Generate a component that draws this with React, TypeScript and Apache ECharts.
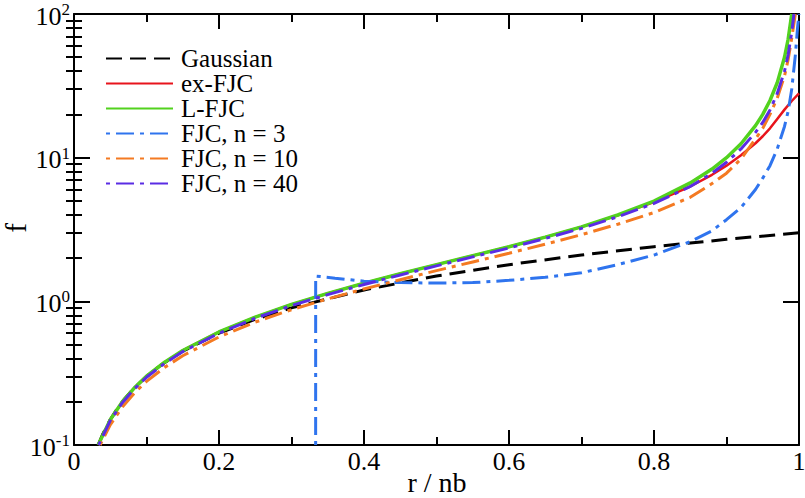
import React, { useEffect, useRef } from "react";
import * as echarts from "echarts";

// ---- data ----
const gaussianR = [0.0333, 0.04, 0.05, 0.06, 0.07, 0.08, 0.1, 0.12, 0.15, 0.2, 0.25, 0.3, 0.4, 0.5, 0.6, 0.7, 0.8, 0.9, 1.0];
const gaussianF = [0.1, 0.12, 0.15, 0.18, 0.21, 0.24, 0.3, 0.36, 0.45, 0.6, 0.75, 0.9, 1.2, 1.5, 1.8, 2.1, 2.4, 2.7, 3.0];

const lfjcR = [0.0333, 0.05, 0.0667, 0.0833, 0.1, 0.125, 0.15, 0.2, 0.25, 0.3, 0.35, 0.4, 0.45, 0.5, 0.55, 0.6, 0.65, 0.7, 0.75, 0.8, 0.85, 0.88, 0.9, 0.92, 0.94, 0.95, 0.96, 0.97, 0.98, 0.985, 0.99];
const lfjcF = [0.1, 0.15, 0.2, 0.25, 0.301, 0.377, 0.455, 0.612, 0.777, 0.953, 1.135, 1.335, 1.555, 1.8, 2.08, 2.4, 2.8, 3.3, 3.99, 4.99, 6.67, 8.33, 10, 12.5, 16.7, 20, 25, 33.3, 50, 66.7, 100];

const exfjcR = [0.0333, 0.05, 0.0667, 0.0833, 0.1, 0.125, 0.15, 0.2, 0.25, 0.3, 0.35, 0.4, 0.45, 0.5, 0.55, 0.6, 0.65, 0.7, 0.75, 0.8, 0.85, 0.88, 0.9, 0.92, 0.94, 0.95, 0.96, 0.97, 0.98, 0.99, 1.0];
const exfjcF = [0.1, 0.15, 0.2, 0.25, 0.301, 0.377, 0.455, 0.612, 0.777, 0.953, 1.135, 1.335, 1.555, 1.8, 2.08, 2.4, 2.8, 3.3, 3.97, 4.9, 6.3, 7.6, 8.8, 10.4, 12.6, 14.1, 16.0, 18.6, 21.6, 24.8, 28];

const fjc3R = [0.3333, 0.33335, 0.36, 0.4, 0.45, 0.5, 0.55, 0.6, 0.65, 0.7, 0.75, 0.8, 0.85, 0.88, 0.9, 0.92, 0.94, 0.95, 0.96, 0.97, 0.98, 0.985, 0.99, 0.995, 0.998, 1.0];
const fjc3F = [0.1, 1.5, 1.45, 1.38, 1.35, 1.34, 1.35, 1.4, 1.47, 1.58, 1.8, 2.1, 2.6, 3.1, 3.7, 4.5, 6.0, 7.2, 8.8, 11.5, 16.5, 21, 30, 52, 80, 100];

const fjc10R = [0.036, 0.05, 0.0667, 0.0833, 0.1, 0.125, 0.15, 0.2, 0.25, 0.3, 0.35, 0.4, 0.45, 0.5, 0.55, 0.6, 0.65, 0.7, 0.75, 0.8, 0.85, 0.88, 0.9, 0.92, 0.94, 0.95, 0.96, 0.97, 0.98, 0.985, 0.99, 0.995];
const fjc10F = [0.1, 0.138, 0.184, 0.23, 0.277, 0.347, 0.418, 0.565, 0.717, 0.875, 1.04, 1.22, 1.415, 1.635, 1.88, 2.16, 2.5, 2.91, 3.44, 4.15, 5.3, 6.6, 7.8, 9.8, 13.5, 16, 20, 26, 37, 48, 68, 100];

const fjc40R = [0.034, 0.05, 0.0667, 0.0833, 0.1, 0.125, 0.15, 0.2, 0.25, 0.3, 0.35, 0.4, 0.45, 0.5, 0.55, 0.6, 0.65, 0.7, 0.75, 0.8, 0.85, 0.88, 0.9, 0.92, 0.94, 0.95, 0.96, 0.97, 0.98, 0.985, 0.99, 0.993];
const fjc40F = [0.1, 0.148, 0.197, 0.246, 0.296, 0.37, 0.447, 0.6, 0.763, 0.935, 1.113, 1.31, 1.525, 1.765, 2.04, 2.35, 2.74, 3.22, 3.88, 4.8, 6.3, 7.8, 9.3, 11.5, 15, 17.6, 21.5, 28, 40, 52, 75, 100];

const seriesNames = ["Gaussian", "ex-FJC", "L-FJC", "FJC, n = 3", "FJC, n = 10", "FJC, n = 40"];
const xTicks = [0, 0.2, 0.4, 0.6, 0.8, 1];
const yMinorTicks = [0.2, 0.3, 0.4, 0.5, 0.6, 0.7, 0.8, 0.9, 2, 3, 4, 5, 6, 7, 8, 9, 20, 30, 40, 50, 60, 70, 80, 90];

const FONT = "Liberation Serif";

const pairs = (r: number[], f: number[]) => r.map((v, i) => [v, f[i]]);

export default function App() {
  const ref = useRef<HTMLDivElement>(null);
  useEffect(() => {
    document.body.style.margin = "0";
    const chart = echarts.init(ref.current!, undefined, { renderer: "svg" });
    const mkLine = (name: string, data: number[][], color: string, width: number, type: any) => ({
      name,
      type: "line",
      data,
      xAxisIndex: 0,
      yAxisIndex: 0,
      symbol: "none",
      showSymbol: false,
      smooth: false,
      lineStyle: { color, width, type },
      itemStyle: { color },
      emphasis: { disabled: true },
    });
    const axisLineStyle = { color: "#000", width: 2 };
    const dashDot = [4, 6, 18, 6];
    const option: any = {
      animation: false,
      textStyle: { fontFamily: FONT },
      grid: { left: 74, right: 6, top: 14, bottom: 53, containLabel: false, outerBoundsMode: "none" },
      legend: {
        orient: "vertical",
        left: 105,
        top: 46,
        padding: 0,
        itemWidth: 67,
        itemHeight: 14,
        itemGap: 0,
        data: seriesNames,
        itemStyle: { opacity: 0 },
        formatter: (name: string) => `{a|${name}}`,
        textStyle: {
          fontFamily: FONT,
          fontSize: 25,
          lineHeight: 21.5,
          color: "#000",
          padding: [0, 0, 0, 3],
          rich: { a: { fontFamily: FONT, fontSize: 25, lineHeight: 21.5, color: "#000" } },
        },
        selectedMode: false,
      },
      xAxis: [
        {
          type: "value",
          min: xTicks[0],
          max: xTicks[xTicks.length - 1],
          interval: 0.2,
          position: "bottom",
          axisLine: { show: true, onZero: false, lineStyle: axisLineStyle },
          axisTick: { show: true, inside: true, length: 15, lineStyle: { color: "#000", width: 2 } },
          minorTick: { show: true, splitNumber: 2, length: 8, lineStyle: { color: "#000", width: 2 } },
          splitLine: { show: false },
          axisLabel: {
            margin: 3,
            fontSize: 26,
            color: "#000",
            fontFamily: FONT,
            formatter: (v: number) => (Math.abs(v) < 1e-9 ? "0" : String(Math.round(v * 10) / 10)),
          },
        },
        {
          type: "value",
          min: xTicks[0],
          max: xTicks[xTicks.length - 1],
          interval: 0.2,
          position: "top",
          axisLine: { show: true, onZero: false, lineStyle: axisLineStyle },
          axisTick: { show: true, inside: true, length: 15, lineStyle: { color: "#000", width: 2 } },
          minorTick: { show: true, splitNumber: 2, length: 8, lineStyle: { color: "#000", width: 2 } },
          splitLine: { show: false },
          axisLabel: { show: false },
        },
      ],
      yAxis: [
        {
          type: "log",
          logBase: 10,
          min: 0.1,
          max: 100,
          position: "left",
          axisLine: { show: true, onZero: false, lineStyle: axisLineStyle },
          axisTick: { show: true, inside: true, length: 16, lineStyle: { color: "#000", width: 2 } },
          splitLine: { show: false },
          axisLabel: {
            margin: 4,
            color: "#000",
            fontFamily: FONT,
            formatter: (v: number) => `{b|10}{s|${Math.round(Math.log10(v))}}`,
            rich: {
              b: { fontSize: 26, lineHeight: 26, fontFamily: FONT, color: "#000", padding: [4, 0, 0, 0] },
              s: { fontSize: 17, lineHeight: 17, fontFamily: FONT, color: "#000", verticalAlign: "top" },
            },
          },
        },
        {
          type: "log",
          logBase: 10,
          min: 0.1,
          max: 100,
          position: "right",
          axisLine: { show: true, onZero: false, lineStyle: axisLineStyle },
          axisTick: { show: true, inside: true, length: 16, lineStyle: { color: "#000", width: 2 } },
          splitLine: { show: false },
          axisLabel: { show: false },
        },
        {
          type: "log",
          logBase: 10,
          min: 0.1,
          max: 100,
          position: "left",
          axisLine: { show: false },
          axisTick: { show: true, inside: true, length: 8, customValues: yMinorTicks, lineStyle: { color: "#000", width: 2 } },
          splitLine: { show: false },
          axisLabel: { show: false },
        },
        {
          type: "log",
          logBase: 10,
          min: 0.1,
          max: 100,
          position: "right",
          axisLine: { show: false },
          axisTick: { show: true, inside: true, length: 8, customValues: yMinorTicks, lineStyle: { color: "#000", width: 2 } },
          splitLine: { show: false },
          axisLabel: { show: false },
        },
      ],
      graphic: [
        {
          type: "text",
          x: 437,
          y: 482,
          style: { text: "r / nb", fontSize: 28, fontFamily: FONT, fill: "#000", textAlign: "center", textVerticalAlign: "middle", align: "center", verticalAlign: "middle" },
        },
        {
          type: "text",
          x: 16,
          y: 228,
          rotation: Math.PI / 2,
          style: { text: "f", fontSize: 29, fontFamily: FONT, fill: "#000", textAlign: "center", textVerticalAlign: "middle", align: "center", verticalAlign: "middle" },
        },
      ],
      series: [
        mkLine(seriesNames[0], pairs(gaussianR, gaussianF), "#000000", 3, [16, 8]),
        mkLine(seriesNames[1], pairs(exfjcR, exfjcF), "#e8141c", 2.5, "solid"),
        mkLine(seriesNames[2], pairs(lfjcR, lfjcF), "#52d21e", 3.5, "solid"),
        mkLine(seriesNames[3], pairs(fjc3R, fjc3F), "#2f74ee", 3, dashDot),
        mkLine(seriesNames[4], pairs(fjc10R, fjc10F), "#f47a22", 3, dashDot),
        mkLine(seriesNames[5], pairs(fjc40R, fjc40F), "#5a2ce4", 3, dashDot),
      ],
    };
    chart.setOption(option);
    return () => chart.dispose();
  }, []);
  return <div ref={ref} style={{ width: 805, height: 498 }} />;
}
